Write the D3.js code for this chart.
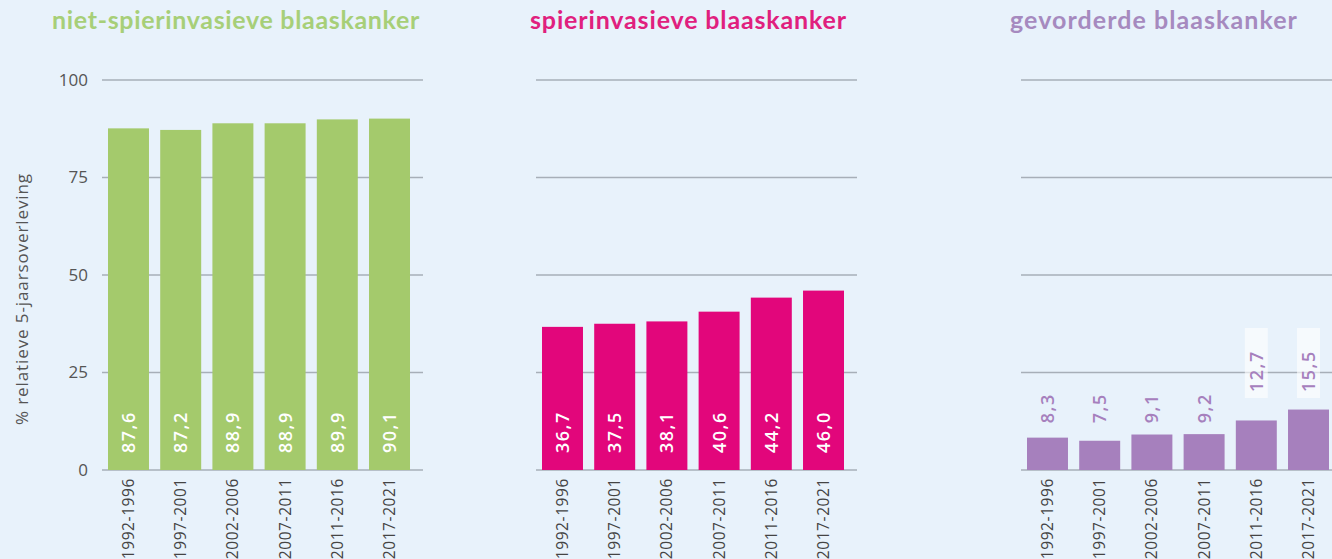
<!DOCTYPE html>
<html>
<head>
<meta charset="utf-8">
<script src="https://cdn.jsdelivr.net/npm/d3@7"></script>
<style>
  html, body { margin: 0; padding: 0; background: #e8f2fb; }
  svg { display: block; }
</style>
</head>
<body>
<svg id="viz" width="1332" height="559"></svg>
<script>
// data
const periods = ["1992-1996", "1997-2001", "2002-2006", "2007-2011", "2011-2016", "2017-2021"]
const nmibc = [87.6, 87.2, 88.9, 88.9, 89.9, 90.1]
const mibc = [36.7, 37.5, 38.1, 40.6, 44.2, 46.0]
const advanced = [8.3, 7.5, 9.1, 9.2, 12.7, 15.5]
const titles = ["niet-spierinvasieve blaaskanker", "spierinvasieve blaaskanker", "gevorderde blaaskanker"]
const yTicks = [0, 25, 50, 75, 100]
const yLabel = "% relatieve 5-jaarsoverleving"

const svg = d3.select("svg#viz")
const width = +svg.attr("width")
const height = +svg.attr("height")

// layout
const Y0 = 470, Y1 = 80
const panels = [
  {x: 108, values: nmibc, color: "#a4ca6c", titleColor: "#a7cf78", inside: true, titleX: 52, titleW: 368},
  {x: 542, values: mibc, color: "#e2067b", titleColor: "#e0207e", inside: true, titleX: 530, titleW: 317},
  {x: 1027, values: advanced, color: "#a680bd", titleColor: "#a68abf", inside: false, titleX: 1010, titleW: 288}
]

const y = d3.scaleLinear().domain([0, 100]).range([Y0, Y1])
const fmt = v => d3.format(".1f")(v).replace(".", ",")

// spread text out so it covers the same width as in the original
function fitWidth(sel, w) {
  sel.each(function() {
    const len = this.getComputedTextLength()
    const n = this.textContent.length
    d3.select(this).attr("letter-spacing", Math.max(0, (w - len) / n))
  })
}

panels.forEach((p, i) => {
  const g = svg.append("g")
  const x = d3.scaleBand().domain(periods)
    .range([p.x, p.x + 302])
    .paddingInner(0.215).paddingOuter(0)

  // gridlines
  g.selectAll("line.grid").data(yTicks)
    .join("line")
    .attr("class", "grid")
    .attr("x1", p.x - 6).attr("x2", p.x + 315)
    .attr("y1", d => y(d)).attr("y2", d => y(d))
    .attr("stroke", "#a7afb8").attr("stroke-width", 1.5)

  // title
  g.append("text")
    .attr("x", p.titleX).attr("y", 29)
    .attr("font-family", "Lato, 'Open Sans', sans-serif")
    .attr("font-weight", 700)
    .attr("font-size", 25)
    .attr("fill", p.titleColor)
    .text(titles[i])
    .call(fitWidth, p.titleW)

  const data = periods.map((k, j) => ({k: k, v: p.values[j]}))

  g.selectAll("rect.bar").data(data)
    .join("rect")
    .attr("class", "bar")
    .attr("x", d => x(d.k))
    .attr("width", x.bandwidth())
    .attr("y", d => y(d.v))
    .attr("height", d => Y0 - y(d.v))
    .attr("fill", p.color)

  // value labels
  if (p.inside) {
    g.selectAll("text.val").data(data)
      .join("text")
      .attr("class", "val")
      .attr("transform", d => `translate(${x(d.k) + x.bandwidth() / 2},${Y0 - 17}) rotate(-90)`)
      .attr("dy", "0.36em")
      .attr("font-family", "'Open Sans', sans-serif")
      .attr("font-weight", 600)
      .attr("font-size", 18)
      .attr("letter-spacing", 1.5)
      .attr("fill", "#fff")
      .text(d => fmt(d.v))
  } else {
    const anchor = d => d.v < 10 ? y(12) : y(20)
    g.selectAll("rect.lblbg").data(data.filter(d => d.v >= 10))
      .join("rect")
      .attr("class", "lblbg")
      .attr("x", d => x(d.k) + x.bandwidth() / 2 - 11.5)
      .attr("width", 23)
      .attr("y", d => anchor(d) - 64)
      .attr("height", 70)
      .attr("fill", "#fff").attr("opacity", 0.6)
    g.selectAll("text.val").data(data)
      .join("text")
      .attr("class", "val")
      .attr("transform", d => `translate(${x(d.k) + x.bandwidth() / 2},${anchor(d)}) rotate(-90)`)
      .attr("dy", "0.36em")
      .attr("font-family", "'Open Sans', sans-serif")
      .attr("font-weight", 600)
      .attr("font-size", 18)
      .attr("letter-spacing", 1.5)
      .attr("fill", p.color)
      .text(d => fmt(d.v))
  }

  // category labels
  g.selectAll("text.cat").data(periods)
    .join("text")
    .attr("class", "cat")
    .attr("transform", d => `translate(${x(d) + x.bandwidth() / 2},${Y0 + 8}) rotate(-90)`)
    .attr("text-anchor", "end")
    .attr("dy", "0.36em")
    .attr("font-family", "'Open Sans', sans-serif")
    .attr("font-size", 15.5)
    .attr("letter-spacing", 0.6)
    .attr("fill", "#444")
    .text(d => d)

  if (i == 0) {
    g.selectAll("text.tick").data(yTicks)
      .join("text")
      .attr("class", "tick")
      .attr("x", 88).attr("y", d => y(d))
      .attr("dy", "0.35em")
      .attr("text-anchor", "end")
      .attr("font-family", "'Open Sans', sans-serif")
      .attr("font-size", 17)
      .attr("fill", "#555")
      .text(d => d)
  }
})

svg.append("text")
  .attr("transform", `translate(22,425) rotate(-90)`)
  .attr("dy", "0.35em")
  .attr("font-family", "'Open Sans', sans-serif")
  .attr("font-size", 17)
  .attr("fill", "#555")
  .text(yLabel)
  .call(fitWidth, 252)
</script>
</body>
</html>
